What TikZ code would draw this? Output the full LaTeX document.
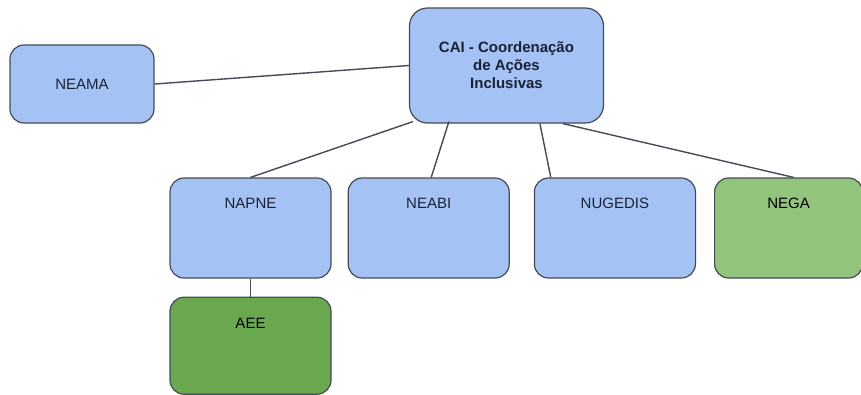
\documentclass[tikz,border=0pt]{standalone}
\usepackage{fontspec}
\setmainfont{Liberation Sans}
\usepackage{tikz}
\usetikzlibrary{positioning,calc}
\definecolor{boxblue}{HTML}{A4C2F4}
\definecolor{boxgreen}{HTML}{93C47D}
\definecolor{boxdkgreen}{HTML}{6AA84F}
\definecolor{boxline}{HTML}{454B55}
\definecolor{boxtext}{HTML}{1B2236}
\tikzset{
  orgbox/.style={draw=boxline, line width=1.2pt, rounded corners=14pt, align=center, inner sep=0pt, text=boxtext, font=\fontsize{15}{18}\selectfont},
  topbox/.style={orgbox, fill=boxblue, rounded corners=18pt, minimum width=194pt, minimum height=115pt, font=\fontsize{15}{18}\selectfont\bfseries},
  sidebox/.style={orgbox, fill=boxblue, minimum width=144pt, minimum height=78pt},
  rowbox/.style={orgbox, fill=boxblue, minimum width=161pt, text height=30pt, text depth=70pt},
  greenbox/.style={rowbox, fill=boxgreen, text=black},
  subbox/.style={orgbox, fill=boxdkgreen, text=black, minimum width=161pt, text height=31.5pt, text depth=65.5pt},
  link/.style={draw=boxline, line width=1.4pt}
}
\begin{document}
\begin{tikzpicture}[x=1pt, y=-1pt, node distance=16pt]
\useasboundingbox (0,0) rectangle (861,394);
\node[topbox] (cai) at (506.5,65.5) {CAI - Coordenação\\de Ações\\Inclusivas};
\node[sidebox] (neama) at (82,84) {NEAMA};
\node[rowbox] (napne) at (250.5,228) {NAPNE};
\node[rowbox, right=16pt of napne] (neabi) {NEABI};
\node[rowbox, right=24pt of neabi] (nugedis) {NUGEDIS};
\node[greenbox, right=18pt of nugedis, minimum width=148pt] (nega) {NEGA};
\node[subbox, below=18pt of napne] (aee) {AEE};
\draw[link] (neama.east) -- (cai.west);
\draw[link] ($(cai.south west)+(4,-2)$) -- (napne.north);
\draw[link] ($(cai.south west)+(40,-2)$) -- ($(neabi.north)+(2.5,0)$);
\draw[link] ($(cai.south west)+(131,0)$) -- ($(nugedis.north west)+(17,0)$);
\draw[link] ($(cai.south west)+(154,0)$) -- ($(nega.north)+(5,0)$);
\draw[link] (napne) -- (aee);
\end{tikzpicture}
\end{document}
